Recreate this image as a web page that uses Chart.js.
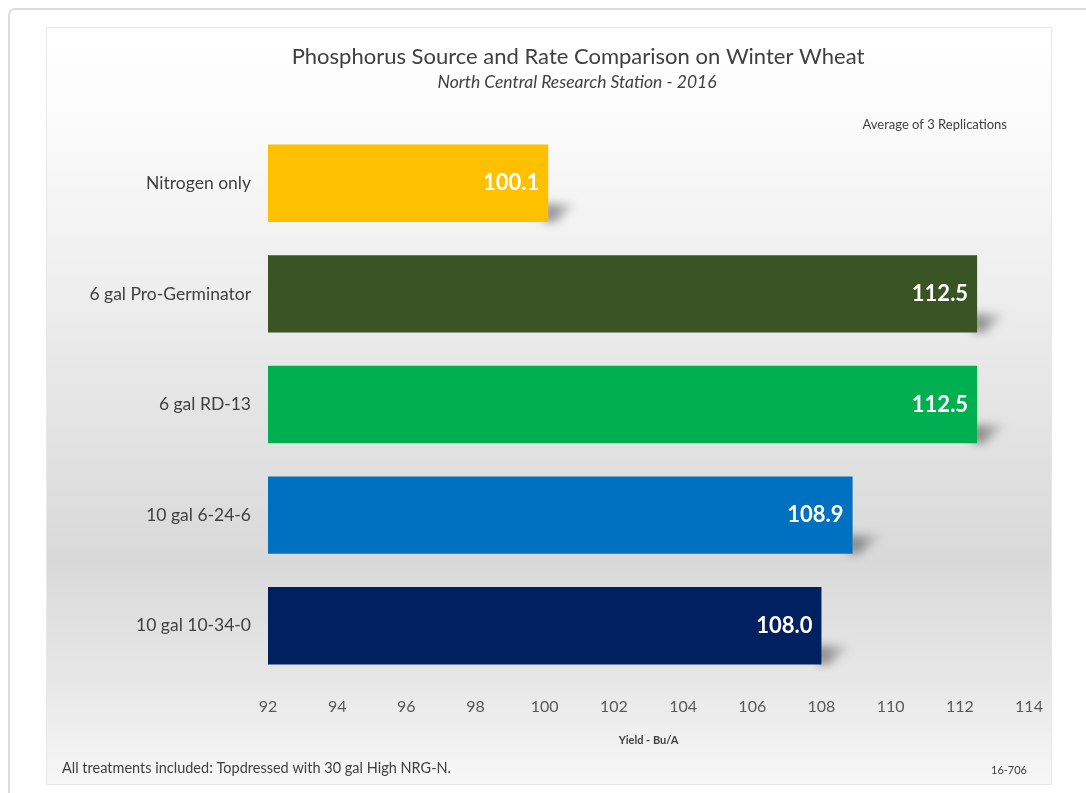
<!DOCTYPE html>
<html>
<head>
<meta charset="utf-8">
<script src="https://cdn.jsdelivr.net/npm/chart.js@4/dist/chart.umd.min.js"></script>
<style>
  html, body { margin: 0; padding: 0; background: #ffffff; }
  #wrap { position: relative; width: 1086px; height: 793px; }
  canvas { display: block; }
</style>
</head>
<body>
<div id="wrap"><canvas id="c" width="1086" height="793"></canvas></div>
<script>
const categories = ["Nitrogen only", "6 gal Pro-Germinator", "6 gal RD-13", "10 gal 6-24-6", "10 gal 10-34-0"];
const yieldValues = [100.1, 112.5, 112.5, 108.9, 108.0];
const barColors = ["#FFC000", "#3A5424", "#00B050", "#0070C0", "#002060"];
const xTicks = [92, 94, 96, 98, 100, 102, 104, 106, 108, 110, 112, 114];

const titleText = "Phosphorus Source and Rate Comparison on Winter Wheat";
const subtitleText = "North Central Research Station - 2016";
const noteText = "Average of 3 Replications";
const axisTitleText = "Yield - Bu/A";
const footerLeft = "All treatments included: Topdressed with 30 gal High NRG-N.";
const footerRight = "16-706";

const FONT = "Lato, 'Open Sans', sans-serif";

const panelPlugin = {
  id: 'panel',
  beforeDraw(chart) {
    const ctx = chart.ctx;
    ctx.save();
    ctx.fillStyle = '#ffffff';
    ctx.fillRect(0, 0, chart.width, chart.height);
    ctx.strokeStyle = '#dcdcdc';
    ctx.lineWidth = 2;
    ctx.beginPath();
    ctx.roundRect(9, 9, 1200, 1000, 6);
    ctx.stroke();
    const px = 46, py = 27, pw = 1006, ph = 758;
    const g = ctx.createLinearGradient(0, py, 0, py + ph);
    g.addColorStop(0, '#ffffff');
    g.addColorStop(0.12, '#fbfbfb');
    g.addColorStop(0.7, '#d9d9d9');
    g.addColorStop(0.85, '#e6e6e6');
    g.addColorStop(1, '#f7f7f7');
    ctx.fillStyle = g;
    ctx.fillRect(px, py, pw, ph);
    ctx.strokeStyle = '#e8e8e8';
    ctx.lineWidth = 1;
    ctx.strokeRect(px + 0.5, py + 0.5, pw - 1, ph - 1);

    ctx.fillStyle = '#404040';
    ctx.textBaseline = 'middle';
    ctx.textAlign = 'center';
    ctx.font = `22px ${FONT}`;
    ctx.fillText(titleText, 578, 57);
    ctx.font = `italic 17.5px ${FONT}`;
    ctx.fillText(subtitleText, 577, 82);
    ctx.textAlign = 'right';
    ctx.font = `13px ${FONT}`;
    ctx.fillText(noteText, 1007, 125);
    ctx.textAlign = 'left';
    ctx.font = `14.5px ${FONT}`;
    ctx.fillText(footerLeft, 62, 768);
    ctx.textAlign = 'right';
    ctx.font = `11px ${FONT}`;
    ctx.fillText(footerRight, 1027, 770);
    ctx.restore();
  },
  beforeDatasetsDraw(chart) {
    const ctx = chart.ctx;
    const meta = chart.getDatasetMeta(0);
    ctx.save();
    ctx.filter = 'blur(4px)';
    meta.data.forEach(bar => {
      const h = bar.height;
      const bottom = bar.y + h / 2;
      const xe = bar.x;
      const grad = ctx.createLinearGradient(xe, 0, xe + 30, 0);
      grad.addColorStop(0, 'rgba(60,60,60,0.55)');
      grad.addColorStop(1, 'rgba(60,60,60,0.05)');
      ctx.fillStyle = grad;
      ctx.beginPath();
      ctx.moveTo(xe - 4, bottom - h * 0.24);
      ctx.lineTo(xe + 28, bottom - h * 0.24);
      ctx.lineTo(xe + 8, bottom);
      ctx.lineTo(xe - 4, bottom);
      ctx.closePath();
      ctx.fill();
    });
    ctx.restore();
  },
  afterDatasetsDraw(chart) {
    const ctx = chart.ctx;
    const meta = chart.getDatasetMeta(0);
    ctx.save();
    ctx.fillStyle = '#ffffff';
    ctx.textAlign = 'right';
    ctx.textBaseline = 'middle';
    ctx.font = `bold 22px ${FONT}`;
    meta.data.forEach((bar, i) => {
      ctx.fillText(yieldValues[i].toFixed(1), bar.x - 9, bar.y);
    });
    ctx.restore();
  }
};

new Chart(document.getElementById('c'), {
  type: 'bar',
  data: {
    labels: categories,
    datasets: [{
      data: yieldValues,
      backgroundColor: barColors,
      borderWidth: 0,
      categoryPercentage: 1.0,
      barPercentage: 0.7
    }]
  },
  options: {
    indexAxis: 'y',
    responsive: false,
    animation: false,
    devicePixelRatio: 1,
    layout: { padding: { top: 128, right: 57, left: 0, bottom: 0 } },
    plugins: {
      legend: { display: false },
      tooltip: { enabled: false },
      title: { display: false }
    },
    scales: {
      x: {
        min: 92,
        max: 114,
        afterBuildTicks(scale) { scale.ticks = xTicks.map(v => ({ value: v })); },
        grid: { display: false, drawTicks: false },
        border: { display: false },
        ticks: {
          color: '#595959',
          font: { family: FONT, size: 16 },
          padding: 16,
          maxRotation: 0,
          autoSkip: false
        },
        title: {
          display: true,
          text: axisTitleText,
          color: '#404040',
          font: { family: FONT, size: 11, weight: 'bold' },
          padding: { top: 0, bottom: 46 }
        },
        afterFit(scale) { scale.height = 112; }
      },
      y: {
        grid: { display: false, drawTicks: false },
        border: { display: false },
        ticks: {
          color: '#404040',
          font: { family: FONT, size: 17.5 },
          padding: 17
        },
        afterFit(scale) { scale.width = 268; }
      }
    }
  },
  plugins: [panelPlugin]
});
</script>
</body>
</html>
